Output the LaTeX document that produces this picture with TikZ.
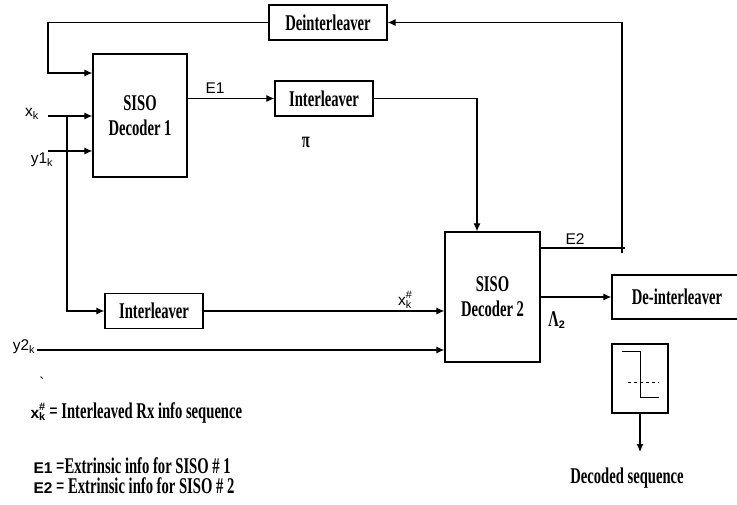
\documentclass[tikz,border=0pt]{standalone}
\usepackage{fontspec}
\setmainfont{Liberation Serif}
\newfontfamily\boxfont[FakeStretch=0.65]{Liberation Serif}
\newfontfamily\lblfont{Liberation Sans}
\newcommand\sanslbl{\fontsize{15.5}{17}\lblfont}
\usetikzlibrary{positioning,arrows.meta}

\begin{document}
\begin{tikzpicture}[x=1pt,y=-1pt,>={Latex[length=8pt,width=7pt]},line width=1.1pt,
 blk/.style={draw,line width=1.3pt,align=center,inner sep=0pt,font={\fontsize{22.5}{25}\boxfont\bfseries}},
 lbl/.style={inner sep=0pt,font=\sanslbl},
 note/.style={anchor=base west,inner sep=0pt,font={\fontsize{22.5}{24}\boxfont\bfseries}}]
\useasboundingbox (0,0) rectangle (737,505);
% blocks
\node[blk,minimum width=118pt,minimum height=35pt] (deint) at (328,22.5) {Deinterleaver};
\node[blk,minimum width=94pt,minimum height=123pt] (dec1) at (140,115.5) {SISO\\Decoder 1};
\node[blk,minimum width=98pt,minimum height=35pt] (int1) at (324,98.5) {Interleaver};
\node[blk,minimum width=98pt,minimum height=35pt] (int2) at (154,311) {Interleaver};
\node[blk,minimum width=95pt,minimum height=130pt] (dec2) at (492.5,297) {SISO\\Decoder 2};
\node[blk,minimum width=130pt,minimum height=44pt] (deint2) at (677,297) {De-interleaver};
\node[draw,line width=1.3pt,minimum width=56pt,minimum height=69pt] (slicer) at (640,378.5) {};
\draw[line width=1pt] (622,352) -| (640,397) -- (659,397);
\draw[line width=1pt,dashed] (628,382) -- (659,382);
% labels
\node[lbl] (xk) at (32,114) {x\textsubscript{k}};
\node[lbl] (y1k) at (42,160) {y1\textsubscript{k}};
\node[lbl] (y2k) at (24,347) {y2\textsubscript{k}};
\node[lbl] (e1) at (215,88) {E1};
\node[lbl] (e2) at (575,239) {E2};
\node[lbl] (xsk) at (405,300) {x\rlap{\raisebox{2pt}{\textsuperscript{\#}}}\textsubscript{k}};
\node[note,anchor=center] (pi) at (306,142) {π};
\node[note,anchor=center] (lam) at (557,320) {Λ{\sanslbl\textsubscript{2}}};
\node[note,anchor=center] (decoded) at (627,478) {Decoded sequence};
\node[inner sep=0pt,font=\sanslbl] (tick) at (42,383) {`};
\node[note] (leg1) at (30,418) {{\sanslbl x\rlap{\raisebox{2pt}{\textsuperscript{\#}}}\textsubscript{k}} = Interleaved Rx info sequence};
\node[note] (leg2) at (33,473) {{\sanslbl E1} =Extrinsic info for SISO \# 1};
\node[note] (leg3) at (33,493) {{\sanslbl E2} = Extrinsic info for SISO \# 2};
% connectors
\coordinate (fbL) at (48,73);
\coordinate (xin) at (48,116);
\coordinate (yin) at (48,151);
\coordinate (tap) at (67,116);
\coordinate (y2in) at (37,350);
\coordinate (d2top) at (477,0);
\coordinate (e2end) at (625,248);
\coordinate (fbR) at (622,253);
\coordinate (decout) at (640,452);
\draw[->] (deint.west) -| (fbL) -- (fbL -| dec1.west);
\foreach \c in {xin,yin}{\draw[->] (\c) -- (\c -| dec1.west);}
\draw[->] (tap) |- (int2.west);
\draw[->] (int2.east) -- (int2.east -| dec2.west);
\draw[->] (y2in) -- (y2in -| dec2.west);
\draw[->] (dec1.east |- int1.west) -- (int1.west);
\draw[->] (int1.east) -| (d2top |- dec2.north);
\draw (dec2.east |- e2end) -- (e2end);
\draw[->] (fbR) |- (deint.east);
\draw[->] (dec2.east |- deint2.west) -- (deint2.west);
\draw[->] (slicer.south) -- (decout);
\end{tikzpicture}
\end{document}
